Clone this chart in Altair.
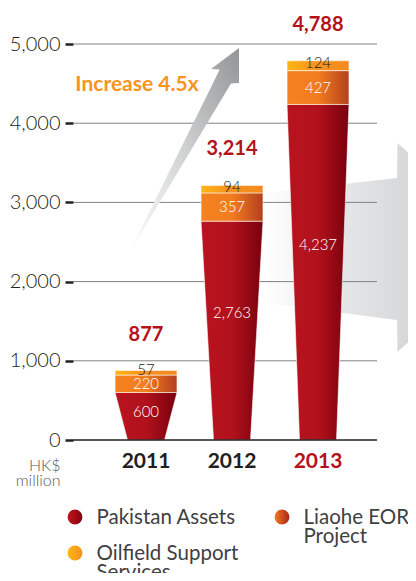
import altair as alt
import pandas as pd

# ---------------- data ----------------
years = ["2011", "2012", "2013"]
pakistan = [600, 2763, 4237]
liaohe = [220, 357, 427]
oilfield = [57, 94, 124]
totals = [877, 3214, 4788]
legend_lines = ["Pakistan Assets", "Liaohe EOR\nProject", "Oilfield Support\nServices"]
y_ticks = [0, 1000, 2000, 3000, 4000, 5000]
grid_ticks = [1000, 2000, 3000, 4000, 5000]

# decorative arrows, in data units (x = bar index, y = HK$ million)
diag_arrow_y = [4949, 4684, 4678, 4507, 4501, 2336]
diag_arrow_left = [1.081, 0.756, 0.857, 0.779, 0.777, -0.209]
diag_arrow_right = [1.081, 1.081, 1.081, 1.081, 0.988, -0.209]
big_arrow_x = [1.384, 2.919, 2.924, 4.267]
big_arrow_top = [3119, 3308, 3750, 2430]
big_arrow_bottom = [1730, 1515, 1111, 2430]
increase_text = ["Increase 4.5x"]
increase_pos = [(-0.105, 4482)]

# ---------------- styles ----------------
FONT = "Lato"
RED = "#b5121b"
DARK = "#231f20"
HALF_TOP = 0.36
HALF_BOTTOM = 0.215


def grad(stops, x2=1, y1=0, y2=0, x1=0):
    return alt.LinearGradient(
        gradient="linear",
        stops=[alt.GradientStop(offset=o, color=c) for o, c in stops],
        x1=x1, x2=x2, y1=y1, y2=y2,
    )


series = [
    ("pak", pakistan, grad([(0, "#b9131e"), (0.5, "#b0121c"), (1, "#7a000e")]),
     grad([(0, "#c0161f"), (1, "#86000f")])),
    ("lia", liaohe, grad([(0, "#f5821f"), (0.5, "#f27c20"), (1, "#b3401e")]),
     grad([(0, "#f47920"), (1, "#a8261d")])),
    ("oil", oilfield, grad([(0, "#fdb515"), (0.45, "#f7931e"), (1, "#f4891f")]),
     grad([(0, "#fdb813"), (1, "#f6901e")])),
]


def xs():
    return alt.Scale(domain=[-0.849, 2.686], nice=False, zero=False)


def ys():
    return alt.Scale(domain=[0, 5000], nice=False, zero=False)


# ---------------- bar geometry ----------------
rows = []
labels = []
for i, yr in enumerate(years):
    base = 0
    for key, vals, _, _ in series:
        lo, hi = base, base + vals[i]
        h_lo = HALF_BOTTOM if key == "pak" else HALF_TOP
        rows.append(dict(year=yr, series=key, v=lo, xl=i - h_lo, xr=i + h_lo))
        rows.append(dict(year=yr, series=key, v=hi, xl=i - HALF_TOP, xr=i + HALF_TOP))
        if key == "pak":
            pos = lo + 0.58 * vals[i]
        else:
            pos = (lo + hi) / 2
        labels.append(dict(idx=i, series=key, pos=pos, text=f"{vals[i]:,}"))
        base = hi
bars = pd.DataFrame(rows)
lab = pd.DataFrame(labels)

tot = pd.DataFrame({"idx": range(3), "year": years, "total": totals,
                    "text": [f"{t:,}" for t in totals]})

# ---------------- layers ----------------
big_arrow = alt.Chart(pd.DataFrame({"x": big_arrow_x, "t": big_arrow_top, "b": big_arrow_bottom})).mark_area(
    orient="vertical",
    fill=grad([(0, "#ffffff"), (0.3, "#e6e7e8"), (0.6, "#d5d6d8"), (1, "#cfd0d2")]),
).encode(
    x=alt.X("x:Q", scale=xs(), axis=None),
    y=alt.Y("t:Q", scale=ys(), axis=None),
    y2="b:Q",
)

grid = alt.Chart(pd.DataFrame({"tick": grid_ticks})).mark_rule(color="#808285", strokeWidth=1).encode(
    y=alt.Y("tick:Q", scale=ys(), axis=alt.Axis(
        values=y_ticks, format=",d", grid=False, domain=False,
        tickSize=8, tickWidth=2.5, tickColor=DARK,
        labelFont=FONT, labelFontSize=20, labelFontWeight=300, labelColor=DARK, labelPadding=5,
        title=["HK$", "million"], titleAngle=0, titleX=-13, titleY=426, titleAlign="right",
        titleBaseline="alphabetic", titleFont=FONT, titleFontSize=16, titleFontWeight=300,
        titleColor="#58595b", titleLineHeight=15,
    )),
)

diag = alt.Chart(pd.DataFrame({"v": diag_arrow_y, "l": diag_arrow_left, "r": diag_arrow_right})).mark_area(
    orient="horizontal",
    fill=grad([(0, "#ffffff"), (0.45, "#d6d7d9"), (1, "#939598")], x1=0, y1=1, x2=1, y2=0),
).encode(
    y=alt.Y("v:Q", scale=ys(), axis=None),
    x=alt.X("l:Q", scale=xs(), axis=None),
    x2="r:Q",
)

inc = alt.Chart(pd.DataFrame({"x": [p[0] for p in increase_pos], "y": [p[1] for p in increase_pos],
                              "t": increase_text})).mark_text(
    font=FONT, fontSize=21, fontWeight="bold", color="#f7941d", align="center", baseline="middle",
).encode(x=alt.X("x:Q", scale=xs(), axis=None), y=alt.Y("y:Q", scale=ys(), axis=None), text="t:N")

bar_layers = []
for key, _, g, _ in series:
    bar_layers.append(
        alt.Chart(bars).transform_filter(alt.datum.series == key).mark_area(
            orient="horizontal", fill=g, stroke="white", strokeWidth=0.8, strokeOpacity=0.7,
        ).encode(
            y=alt.Y("v:Q", scale=ys(), axis=None),
            x=alt.X("xl:Q", scale=xs(), axis=None),
            x2="xr:Q",
            detail="year:N",
        )
    )

zero_rule = alt.Chart(pd.DataFrame({"z": [0]})).mark_rule(color=DARK, strokeWidth=1.3).encode(
    y=alt.Y("z:Q", scale=ys(), axis=None)
)

white_lab = alt.Chart(lab).transform_filter(alt.datum.series != "oil").mark_text(
    font=FONT, fontSize=15, fontWeight=300, color="#ffffff", baseline="middle",
).encode(x=alt.X("idx:Q", scale=xs(), axis=None), y=alt.Y("pos:Q", scale=ys(), axis=None), text="text:N")

dark_lab = alt.Chart(lab).transform_filter(alt.datum.series == "oil").mark_text(
    font=FONT, fontSize=15, fontWeight=300, color=DARK, baseline="middle", dy=-2.5,
).encode(x=alt.X("idx:Q", scale=xs(), axis=None), y=alt.Y("pos:Q", scale=ys(), axis=None), text="text:N")

tot_lab = alt.Chart(tot).mark_text(
    font=FONT, fontSize=20, fontWeight="bold", color=RED, baseline="middle", dy=-36,
).encode(x=alt.X("idx:Q", scale=xs(), axis=None), y=alt.Y("total:Q", scale=ys(), axis=None), text="text:N")

year_lab = alt.Chart(tot).mark_text(
    font=FONT, fontSize=21, fontWeight="bold", baseline="middle", dy=22,
).encode(
    x=alt.X("idx:Q", scale=xs(), axis=None),
    y=alt.Y("zero:Q", scale=ys(), axis=None),
    text="year:N",
    color=alt.condition(alt.datum.year == "2013", alt.value(RED), alt.value(DARK)),
).transform_calculate(zero="0")

# ---------------- legend ----------------
leg = pd.DataFrame({
    "key": [s[0] for s in series],
    "label": legend_lines,
    "col": [i % 2 for i in range(3)],
    "row": [i // 2 for i in range(3)],
})


def lx():
    return alt.Scale(domain=[0, 1], range=[2, 209])


def ly():
    return alt.Scale(domain=[0, 1], range=[473, 509])


leg_layers = []
for key, _, _, lg in series:
    leg_layers.append(
        alt.Chart(leg).transform_filter(alt.datum.key == key).mark_point(
            shape="circle", filled=True, fill=lg, size=220, opacity=1, strokeWidth=0,
        ).encode(x=alt.X("col:Q", scale=lx(), axis=None), y=alt.Y("row:Q", scale=ly(), axis=None))
    )
leg_text = alt.Chart(leg).mark_text(
    font=FONT, fontSize=20.5, fontWeight="normal", color="#414042", align="left", baseline="alphabetic",
    dx=21.5, dy=6.5, lineBreak="\n", lineHeight=19.5,
).encode(x=alt.X("col:Q", scale=lx(), axis=None), y=alt.Y("row:Q", scale=ly(), axis=None), text="label:N")

chart = alt.layer(
    big_arrow, grid, diag, inc, *bar_layers, zero_rule, white_lab, dark_lab, tot_lab, year_lab,
    *leg_layers, leg_text,
).resolve_scale(x="independent", y="independent").properties(
    width=304, height=396,
    autosize=alt.AutoSizeParams(type="none"),
    padding={"left": 65, "top": 36, "right": 31, "bottom": 133},
    background="white",
).configure_view(stroke=None)

chart.save("out.html", embed_options={"renderer": "svg", "actions": False})
